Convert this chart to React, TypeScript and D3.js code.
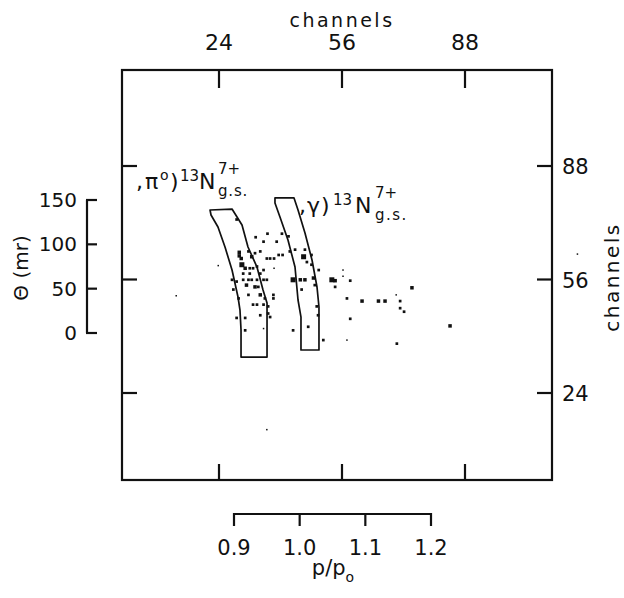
import React from "react";
import * as d3 from "d3";

// ---- data ----
const channelTicks = [24, 56, 88];
const thetaTicks = [0, 50, 100, 150];
const pTicks = [0.9, 1.0, 1.1, 1.2];

// band outlines, in (p/p0, theta mr)
const bandPi: [number, number][] = [
  [0.8635, 138.7], [0.897, 139.8], [0.9122, 121.8], [0.9213, 97], [0.935, 74.4],
  [0.9442, 48.5], [0.9503, 33.8], [0.9503, -27.1], [0.9107, -27.1], [0.9107, 3.4],
  [0.9091, 25.9], [0.9061, 40.6], [0.897, 71], [0.8863, 97], [0.8756, 119.5], [0.865, 133.1],
];
const bandGamma: [number, number][] = [
  [0.9624, 152.3], [0.9914, 152.3], [0.9975, 138.7], [1.0081, 112.8], [1.0188, 82.3],
  [1.0264, 51.9], [1.0294, 29.3], [1.0294, -19.2], [1.002, -19.2], [1.002, 18],
  [0.9975, 37.2], [0.9929, 74.4], [0.9822, 104.9], [0.97, 130.8], [0.9624, 146.6],
];

// events: p/p0, theta (mr), number of overlapping events
const eventP = [
  0.904, 0.951, 0.973, 0.933, 0.945, 0.965, 0.908, 0.908, 0.911, 0.922, 0.927, 0.932, 0.940, 0.950, 0.955,
  0.961, 0.968, 0.974, 0.961, 0.876, 0.912, 0.917, 0.924, 0.929, 0.935, 0.945, 0.914, 0.924, 0.940, 0.897,
  0.904, 0.914, 0.922, 0.927, 0.935, 0.945, 0.950, 0.899, 0.919, 0.932, 0.937, 0.907, 0.922, 0.940, 0.947,
  0.960, 0.960, 0.929, 0.935, 0.945, 0.952, 0.940, 0.952, 0.955, 0.904, 0.917, 0.917, 0.945, 0.812, 0.983,
  0.985, 0.993, 1.006, 1.008, 1.011, 1.018, 1.018, 1.029, 0.990, 1.001, 1.008, 1.021, 1.023, 1.003, 1.026,
  1.028, 0.990, 1.013, 1.036, 1.072, 1.049, 1.054, 1.054, 1.066, 1.066, 1.077, 1.072, 1.095, 1.120, 1.130,
  1.147, 1.153, 1.153, 1.159, 1.171, 1.077, 1.148, 1.229, 0.950, 1.423,
];
const eventTheta = [
  128, 112, 112, 108, 103, 103, 91, 87, 84, 92, 86, 90, 92, 84, 84,
  84, 88, 88, 73, 76, 77, 73, 73, 73, 75, 71, 67, 67, 67, 60,
  58, 60, 60, 60, 60, 60, 60, 49, 54, 52, 52, 39, 43, 43, 39,
  43, 39, 32, 32, 32, 30, 20, 22, 18, 17, 17, 3, 5, 42, 109,
  92, 94, 86, 94, 80, 88, 77, 71, 60, 60, 60, 62, 54, 49, 30,
  20, 3, 7, -8, -8, 60, 59, 52, 71, 64, 59, 39, 36, 36, 36,
  43, 36, 28, 24, 51, 16, -12, 8, -109, 89,
];
const eventCount = [
  2, 2, 2, 2, 2, 2, 3, 3, 3, 2, 3, 2, 2, 2, 2,
  2, 2, 2, 1, 1, 4, 3, 2, 2, 2, 2, 2, 2, 2, 2,
  2, 2, 2, 2, 2, 2, 2, 2, 3, 3, 2, 2, 2, 3, 2,
  2, 2, 2, 2, 2, 2, 2, 2, 2, 2, 2, 2, 1, 1, 2,
  2, 2, 4, 2, 2, 2, 2, 2, 4, 3, 3, 3, 2, 2, 2,
  2, 2, 2, 2, 1, 4, 3, 2, 1, 1, 2, 2, 3, 3, 3,
  1, 2, 2, 2, 3, 2, 2, 3, 1, 1,
];

const FONT = "'DejaVu Sans', sans-serif";
const INK = "#111";

export default function App() {
  const W = 624, H = 598;
  const frame = { left: 122, right: 552, top: 70, bottom: 480 };
  const xCh = d3.scaleLinear().domain([24, 88]).range([219, 465]);
  const yCh = d3.scaleLinear().domain([24, 88]).range([393, 166]);
  const xP = d3.scaleLinear().domain([0.9, 1.2]).range([234, 431]);
  const yT = d3.scaleLinear().domain([0, 150]).range([333, 200]);
  const sz = d3.scaleOrdinal<number, number>().domain([1, 2, 3, 4]).range([1.5, 2.7, 3.5, 5]);

  const line = d3.line<[number, number]>().x((d) => xP(d[0])).y((d) => yT(d[1]));
  const sw = 2.2;

  const tAxisX = 87;
  const pAxisY = 514;

  return (
    <svg width={W} height={H} style={{ position: "absolute", left: 0, top: 0, background: "#fff" }}
      fontFamily={FONT} fill={INK}>
      <rect x={0} y={0} width={W} height={H} fill="#fff" />
      {/* frame */}
      <rect x={frame.left} y={frame.top} width={frame.right - frame.left} height={frame.bottom - frame.top}
        fill="none" stroke={INK} strokeWidth={sw} />
      {channelTicks.map((c) => (
        <g key={"c" + c}>
          <line x1={xCh(c)} x2={xCh(c)} y1={frame.top} y2={frame.top + 18} stroke={INK} strokeWidth={sw} />
          <line x1={xCh(c)} x2={xCh(c)} y1={frame.bottom} y2={frame.bottom - 16} stroke={INK} strokeWidth={sw} />
          <line x1={frame.left} x2={frame.left + 15} y1={yCh(c)} y2={yCh(c)} stroke={INK} strokeWidth={sw} />
          <line x1={frame.right} x2={frame.right - 15} y1={yCh(c)} y2={yCh(c)} stroke={INK} strokeWidth={sw} />
          <text x={xCh(c)} y={50} fontSize={22} textAnchor="middle">{c}</text>
          <text x={562} y={yCh(c) + 8} fontSize={21}>{c}</text>
        </g>
      ))}
      <text x={342} y={27} fontSize={19} textAnchor="middle" letterSpacing={2.5}>channels</text>
      <text transform="translate(619,277) rotate(-90)" fontSize={20} textAnchor="middle" letterSpacing={2.5}>channels</text>

      {/* theta axis */}
      <line x1={tAxisX} x2={tAxisX} y1={yT(150)} y2={yT(0)} stroke={INK} strokeWidth={sw} />
      {thetaTicks.map((t) => (
        <g key={"t" + t}>
          <line x1={tAxisX - 1} x2={tAxisX + 10} y1={yT(t)} y2={yT(t)} stroke={INK} strokeWidth={sw} />
          <text x={77} y={yT(t) + 7} fontSize={20} textAnchor="end">{t}</text>
        </g>
      ))}
      <text transform="translate(28,268) rotate(-90)" fontSize={20} textAnchor="middle">Θ (mr)</text>

      {/* p/p0 axis */}
      <line x1={xP(0.9)} x2={xP(1.2)} y1={pAxisY} y2={pAxisY} stroke={INK} strokeWidth={sw} />
      {pTicks.map((p) => (
        <g key={"p" + p}>
          <line x1={xP(p)} x2={xP(p)} y1={pAxisY - 1} y2={pAxisY + 12} stroke={INK} strokeWidth={sw} />
          <text x={xP(p)} y={555} fontSize={21} textAnchor="middle">{d3.format(".1f")(p)}</text>
        </g>
      ))}
      <text x={333} y={575} fontSize={21} textAnchor="middle">p/p<tspan fontSize={14} dy={7}>o</tspan></text>

      {/* bands */}
      <path d={line(bandPi) + "Z"} fill="none" stroke={INK} strokeWidth={1.7} strokeLinejoin="round" />
      <path d={line(bandGamma) + "Z"} fill="none" stroke={INK} strokeWidth={1.7} strokeLinejoin="round" />

      {/* events */}
      {eventP.map((p, i) => {
        const s = sz(eventCount[i]);
        return <rect key={"e" + i} x={xP(p) - s / 2} y={yT(eventTheta[i]) - s / 2} width={s} height={s} fill={INK} />;
      })}

      {/* reaction labels */}
      <g fontSize={22}>
        <text x={136} y={189}>,</text>
        <text x={145} y={189}>π</text>
        <text x={160} y={180} fontSize={14}>o</text>
        <text x={170} y={189}>)</text>
        <text x={180} y={181} fontSize={15}>13</text>
        <text x={199} y={189}>N</text>
        <text x={218} y={174} fontSize={15}>7+</text>
        <text x={218} y={196} fontSize={15} letterSpacing={0.8}>g.s.</text>

        <text x={299} y={213}>,</text>
        <text x={307} y={213}>γ</text>
        <text x={321} y={213}>)</text>
        <text x={333} y={205} fontSize={15}>13</text>
        <text x={355} y={213}>N</text>
        <text x={375} y={198} fontSize={15}>7+</text>
        <text x={375} y={220} fontSize={15} letterSpacing={1.5}>g.s.</text>
      </g>
    </svg>
  );
}
